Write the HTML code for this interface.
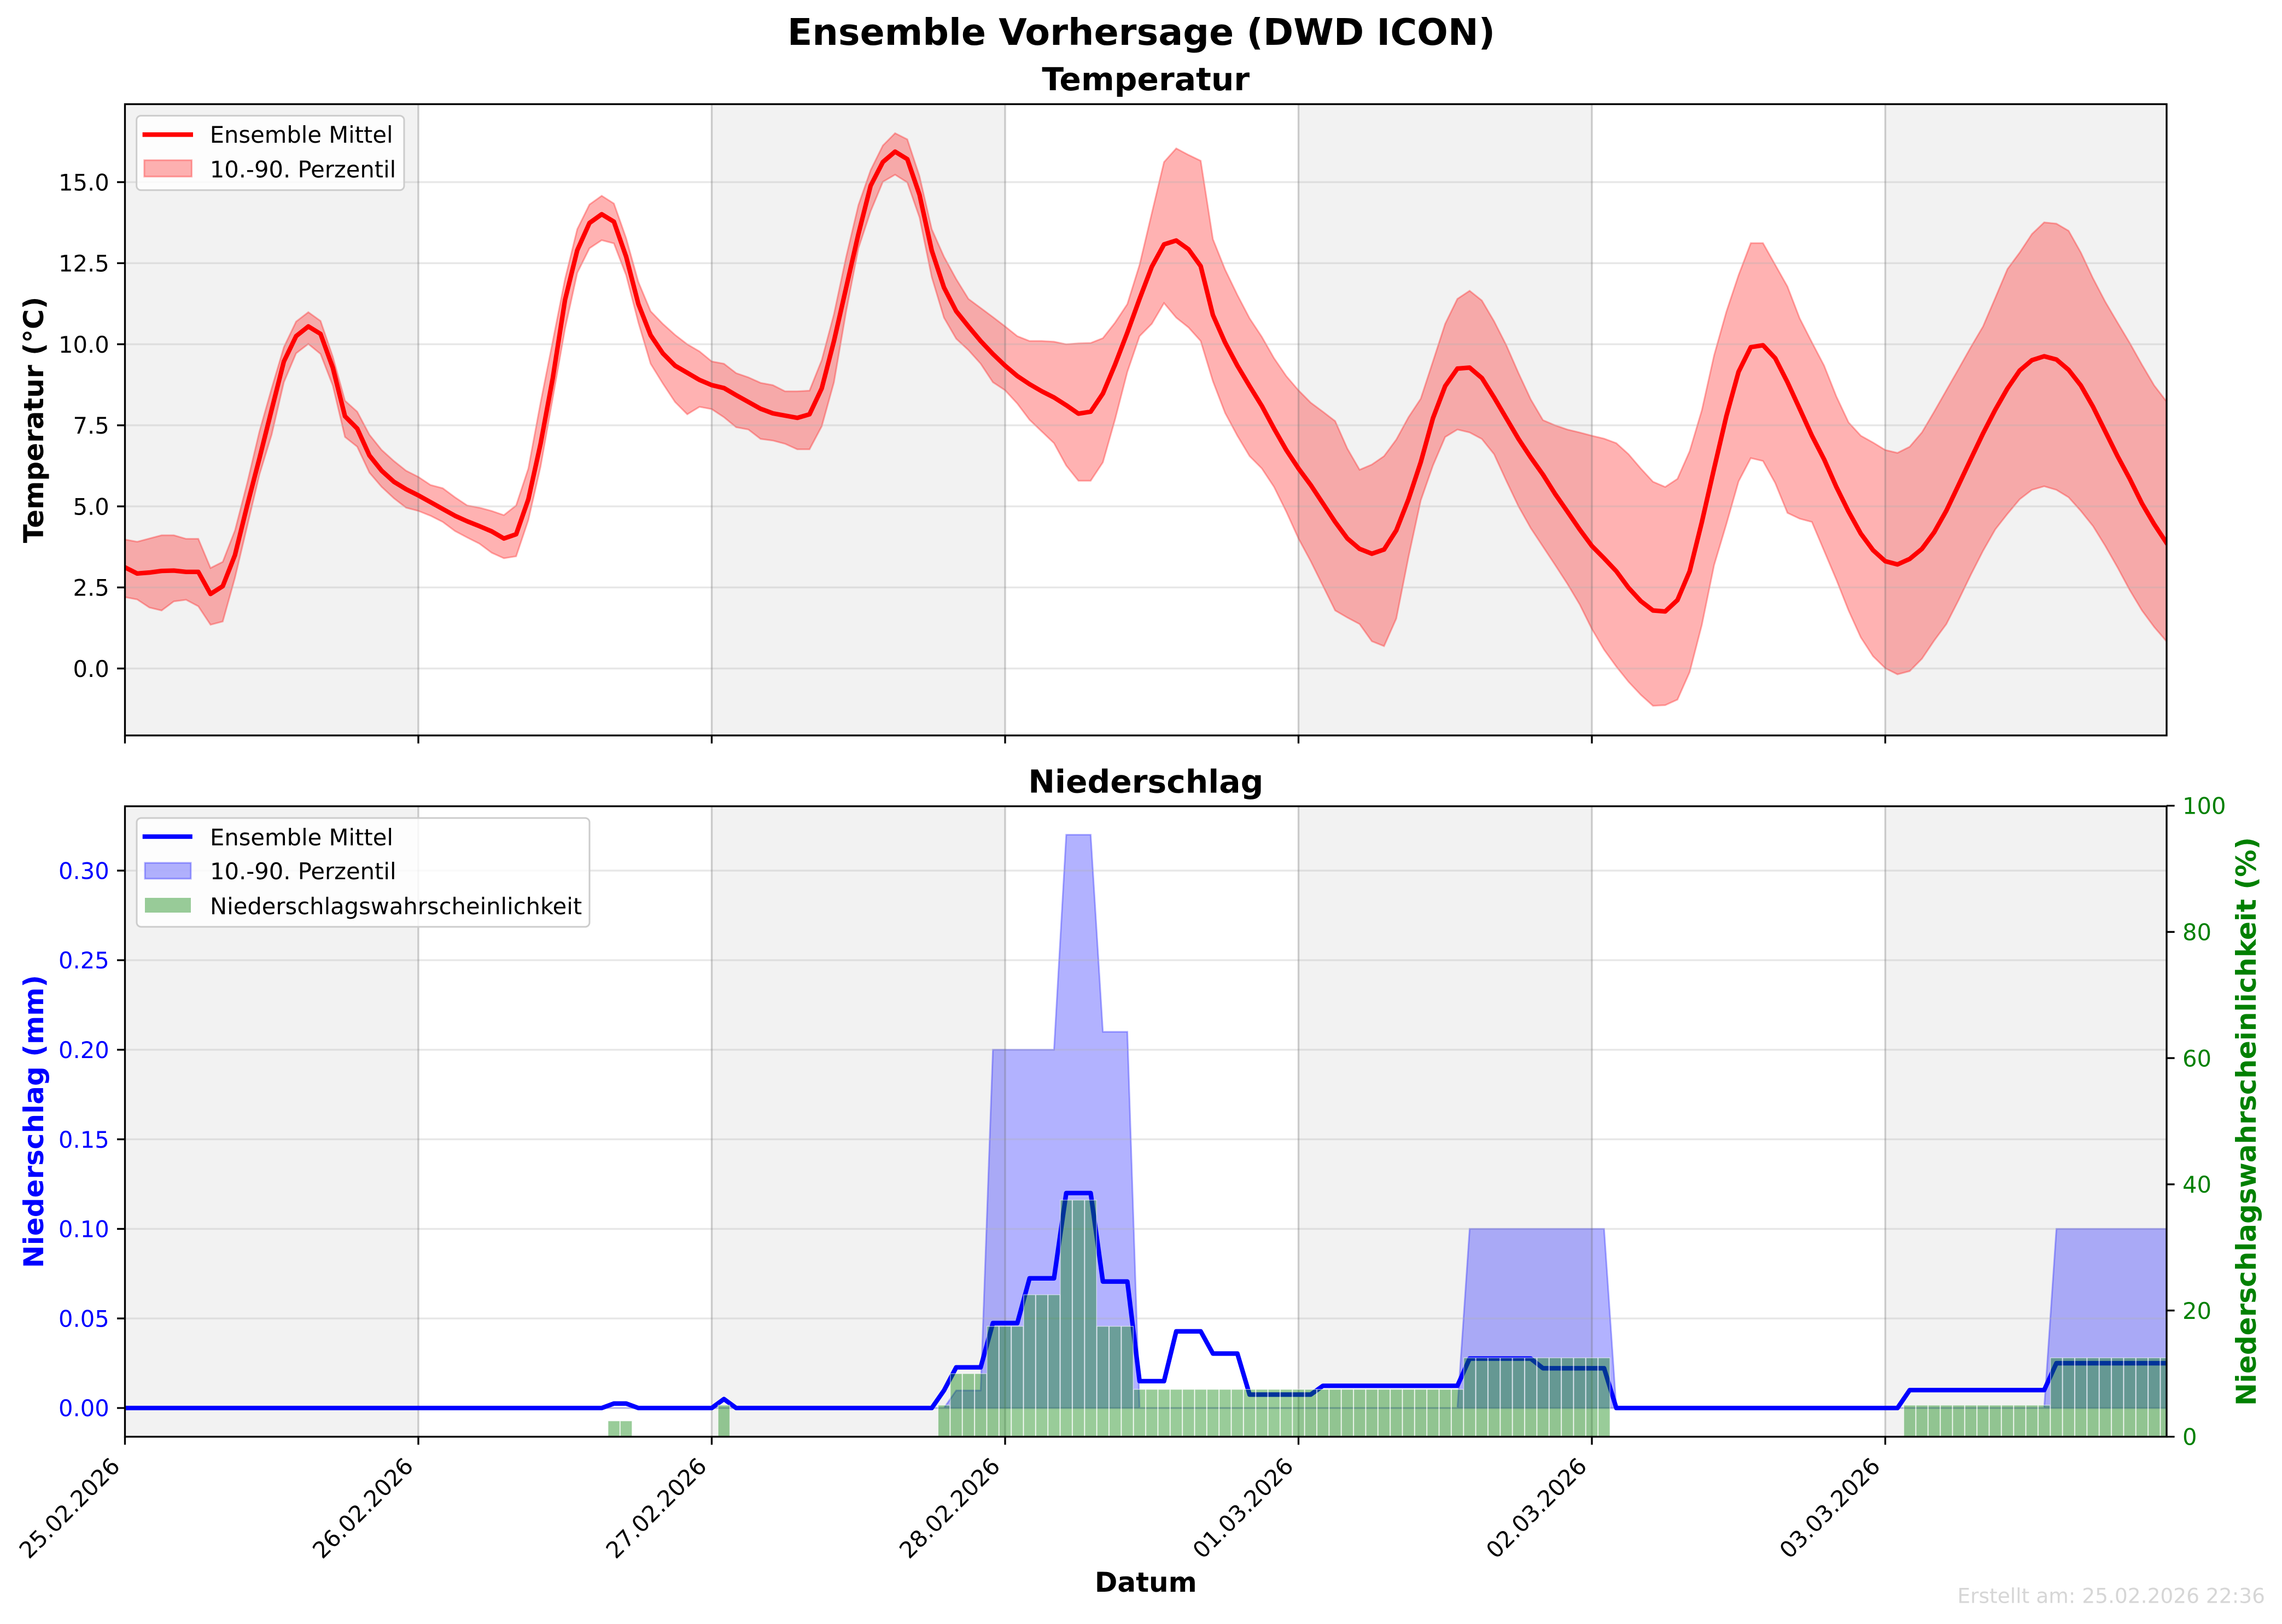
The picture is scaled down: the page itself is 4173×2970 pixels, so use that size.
<!DOCTYPE html>
<html>
<head>
<meta charset="utf-8">
<style>
html,body{margin:0;padding:0;background:#fff;}
svg{display:block;}
.ns{vector-effect:non-scaling-stroke;}
.b{fill:rgba(0,128,0,0.4);stroke:rgba(255,255,255,0.6);stroke-width:1.3px;vector-effect:non-scaling-stroke;}
.tk{font-size:41.67px;}
</style>
</head>
<body>
<svg xmlns="http://www.w3.org/2000/svg" width="4173" height="2970" viewBox="0 0 4173 2970" font-family="'DejaVu Sans','Liberation Sans',sans-serif">
<rect width="4173" height="2970" fill="#ffffff"/>
<defs>
<clipPath id="c1"><rect x="228.5" y="190.5" width="3733.5" height="1154.5"/></clipPath>
<clipPath id="c2"><rect x="228.5" y="1474.5" width="3733.5" height="1153"/></clipPath>
</defs>

<!-- Titles -->
<text x="2087" y="82" text-anchor="middle" font-size="66.7" font-weight="bold">Ensemble Vorhersage (DWD ICON)</text>
<text x="2095.3" y="165" text-anchor="middle" font-size="58.3" font-weight="bold">Temperatur</text>
<text x="2095.3" y="1449.5" text-anchor="middle" font-size="58.3" font-weight="bold">Niederschlag</text>

<!-- ================= TOP AXES ================= -->
<g clip-path="url(#c1)">
  <g fill="#f2f2f2">
    <rect x="228.5" y="190.5" width="536.5" height="1154.5"/>
    <rect x="1301.5" y="190.5" width="536.5" height="1154.5"/>
    <rect x="2374.5" y="190.5" width="536.5" height="1154.5"/>
    <rect x="3447.5" y="190.5" width="514.5" height="1154.5"/>
  </g>
  <g transform="translate(228.5 1222.6) scale(22.354 -59.3)">
    <polygon class="ns" fill="#ff0000" fill-opacity="0.3" stroke="#ff0000" stroke-opacity="0.3" stroke-width="3" points="0,3.98 1,3.91 2,4.01 3,4.11 4,4.11 5,4.00 6,4.00 7,3.10 8,3.29 9,4.26 10,5.72 11,7.31 12,8.64 13,9.91 14,10.70 15,10.99 16,10.72 17,9.62 18,8.26 19,7.92 20,7.21 21,6.74 22,6.40 23,6.10 24,5.91 25,5.66 26,5.56 27,5.28 28,5.03 29,4.96 30,4.86 31,4.73 32,5.03 33,6.17 34,8.20 35,10.10 36,12.01 37,13.55 38,14.31 39,14.58 40,14.34 41,13.27 42,11.92 43,11.02 44,10.63 45,10.29 46,10.00 47,9.78 48,9.47 49,9.40 50,9.11 51,8.98 52,8.81 53,8.74 54,8.55 55,8.55 56,8.57 57,9.51 58,10.93 59,12.70 60,14.29 61,15.37 62,16.13 63,16.51 64,16.32 65,15.18 66,13.55 67,12.70 68,12.01 69,11.40 70,11.12 71,10.84 72,10.55 73,10.25 74,10.10 75,10.10 76,10.08 77,10.00 78,10.03 79,10.04 80,10.19 81,10.67 82,11.24 83,12.45 84,14.04 85,15.62 86,16.04 87,15.84 88,15.66 89,13.24 90,12.30 91,11.52 92,10.80 93,10.23 94,9.57 95,9.02 96,8.58 97,8.20 98,7.92 99,7.63 100,6.78 101,6.13 102,6.29 103,6.55 104,7.06 105,7.75 106,8.32 107,9.47 108,10.63 109,11.40 110,11.65 111,11.35 112,10.71 113,9.97 114,9.11 115,8.30 116,7.66 117,7.50 118,7.37 119,7.28 120,7.18 121,7.09 122,6.95 123,6.61 124,6.17 125,5.76 126,5.60 127,5.85 128,6.70 129,7.97 130,9.66 131,11.00 132,12.13 133,13.12 134,13.12 135,12.45 136,11.78 137,10.80 138,10.06 139,9.34 140,8.39 141,7.59 142,7.18 143,6.97 144,6.74 145,6.65 146,6.84 147,7.28 148,7.92 149,8.58 150,9.24 151,9.91 152,10.55 153,11.43 154,12.32 155,12.83 156,13.40 157,13.76 158,13.72 159,13.50 160,12.83 161,12.03 162,11.31 163,10.67 164,10.04 165,9.37 166,8.73 167,8.24 167,0.84 166,1.28 165,1.79 164,2.42 163,3.12 162,3.78 161,4.39 160,4.86 159,5.28 158,5.51 157,5.62 156,5.51 155,5.22 154,4.77 153,4.29 152,3.63 151,2.89 150,2.11 149,1.37 148,0.86 147,0.30 146,-0.08 145,-0.18 144,0.01 143,0.38 142,0.96 141,1.79 140,2.74 139,3.63 138,4.52 137,4.62 136,4.80 135,5.72 134,6.40 133,6.49 132,5.77 131,4.45 130,3.19 129,1.35 128,-0.11 127,-0.96 126,-1.13 125,-1.15 124,-0.81 123,-0.41 122,0.06 121,0.58 120,1.22 119,1.98 118,2.61 117,3.19 116,3.76 115,4.33 114,5.00 113,5.79 112,6.61 111,7.08 110,7.28 109,7.37 108,7.14 107,6.26 106,5.18 105,3.44 104,1.54 103,0.69 102,0.84 101,1.37 100,1.57 99,1.79 98,2.55 97,3.31 96,4.01 95,4.84 94,5.60 93,6.17 92,6.55 91,7.18 90,7.88 89,8.86 88,10.10 87,10.52 86,10.82 85,11.27 84,10.63 83,10.25 82,9.15 81,7.69 80,6.36 79,5.79 78,5.79 77,6.26 76,6.95 75,7.31 74,7.67 73,8.17 72,8.58 71,8.83 70,9.40 69,9.82 68,10.17 67,10.82 66,12.07 65,13.91 64,14.99 63,15.23 62,15.01 61,14.10 60,12.96 59,11.02 58,8.83 57,7.47 56,6.76 55,6.76 54,6.93 53,7.03 52,7.08 51,7.37 50,7.44 49,7.75 48,8.00 47,8.07 46,7.84 45,8.22 44,8.79 43,9.40 42,10.67 41,12.13 40,13.11 39,13.21 38,12.96 37,12.20 36,10.48 35,8.35 34,6.23 33,4.58 32,3.46 31,3.40 30,3.57 29,3.85 28,4.04 27,4.24 26,4.52 25,4.71 24,4.86 23,4.96 22,5.25 21,5.60 20,6.04 19,6.84 18,7.14 17,8.73 16,9.70 15,10.01 14,9.72 13,8.83 12,7.21 11,5.98 10,4.39 9,2.80 8,1.45 7,1.35 6,1.92 5,2.12 4,2.07 3,1.79 2,1.88 1,2.13 0,2.20"/>
  </g>
  <!-- grid -->
  <path d="M228.5,1222.6H3962M228.5,1074.35H3962M228.5,926.1H3962M228.5,777.85H3962M228.5,629.6H3962M228.5,481.35H3962M228.5,333.1H3962" stroke="rgba(176,176,176,0.3)" stroke-width="3.33" fill="none"/>
  <path d="M765,190.5V1345M1301.5,190.5V1345M1838,190.5V1345M2374.5,190.5V1345M2911,190.5V1345M3447.5,190.5V1345" stroke="rgba(110,110,110,0.33)" stroke-width="3.33" fill="none"/>
  <g transform="translate(228.5 1222.6) scale(22.354 -59.3)">
    <polyline class="ns" fill="none" stroke="#ff0000" stroke-width="8.33" stroke-linejoin="round" stroke-linecap="square" points="0,3.12 1,2.93 2,2.96 3,3.01 4,3.02 5,2.98 6,2.98 7,2.30 8,2.54 9,3.50 10,5.03 11,6.48 12,7.98 13,9.47 14,10.25 15,10.55 16,10.32 17,9.28 18,7.78 19,7.40 20,6.57 21,6.10 22,5.76 23,5.53 24,5.34 25,5.13 26,4.92 27,4.71 28,4.54 29,4.39 30,4.23 31,4.01 32,4.14 33,5.22 34,6.93 35,8.96 36,11.37 37,12.90 38,13.74 39,14.01 40,13.78 41,12.70 42,11.24 43,10.28 44,9.72 45,9.34 46,9.12 47,8.90 48,8.74 49,8.65 50,8.43 51,8.22 52,8.01 53,7.87 54,7.80 55,7.73 56,7.84 57,8.64 58,10.10 59,11.75 60,13.40 61,14.89 62,15.62 63,15.94 64,15.71 65,14.61 66,12.89 67,11.75 68,11.02 69,10.55 70,10.10 71,9.70 72,9.34 73,9.02 74,8.77 75,8.55 76,8.36 77,8.12 78,7.86 79,7.92 80,8.48 81,9.38 82,10.36 83,11.40 84,12.39 85,13.08 86,13.20 87,12.93 88,12.41 89,10.90 90,10.05 91,9.34 92,8.71 93,8.10 94,7.40 95,6.74 96,6.17 97,5.66 98,5.09 99,4.52 100,4.01 101,3.69 102,3.54 103,3.67 104,4.26 105,5.22 106,6.36 107,7.72 108,8.71 109,9.25 110,9.28 111,8.96 112,8.36 113,7.72 114,7.08 115,6.51 116,5.98 117,5.38 118,4.84 119,4.29 120,3.78 121,3.40 122,3.00 123,2.49 124,2.08 125,1.79 126,1.76 127,2.11 128,3.00 129,4.52 130,6.17 131,7.78 132,9.15 133,9.91 134,9.97 135,9.57 136,8.83 137,8.01 138,7.18 139,6.45 140,5.60 141,4.84 142,4.16 143,3.65 144,3.31 145,3.21 146,3.38 147,3.69 148,4.20 149,4.87 150,5.66 151,6.46 152,7.25 153,7.98 154,8.64 155,9.19 156,9.51 157,9.63 158,9.53 159,9.21 160,8.73 161,8.07 162,7.31 163,6.55 164,5.85 165,5.09 166,4.45 167,3.88"/>
  </g>
</g>
<!-- top spines & ticks -->
<rect x="228.5" y="190.5" width="3733.5" height="1154.5" fill="none" stroke="#000" stroke-width="3.33"/>
<path d="M214,1222.6H228.5M214,1074.35H228.5M214,926.1H228.5M214,777.85H228.5M214,629.6H228.5M214,481.35H228.5M214,333.1H228.5M228.5,1345V1359.6M765,1345V1359.6M1301.5,1345V1359.6M1838,1345V1359.6M2374.5,1345V1359.6M2911,1345V1359.6M3447.5,1345V1359.6" stroke="#000" stroke-width="3.33" fill="none"/>
<g class="tk" text-anchor="end" fill="#000">
  <text x="199.8" y="1237.8">0.0</text>
  <text x="199.8" y="1089.55">2.5</text>
  <text x="199.8" y="941.3">5.0</text>
  <text x="199.8" y="793.05">7.5</text>
  <text x="199.8" y="644.8">10.0</text>
  <text x="199.8" y="496.55">12.5</text>
  <text x="199.8" y="348.3">15.0</text>
</g>
<text x="79" y="767.8" text-anchor="middle" font-size="50" font-weight="bold" transform="rotate(-90 79 767.8)">Temperatur (°C)</text>

<!-- top legend -->
<rect x="249.7" y="211.6" width="489.3" height="136.2" rx="8" ry="8" fill="#ffffff" fill-opacity="0.8" stroke="#cccccc" stroke-width="3"/>
<line x1="260.6" y1="246.2" x2="353" y2="246.2" stroke="#ff0000" stroke-width="8.33"/>
<rect x="263.8" y="292.9" width="86.7" height="30.1" fill="#ff0000" fill-opacity="0.3" stroke="#ff0000" stroke-opacity="0.3" stroke-width="3"/>
<text x="383.7" y="261" class="tk">Ensemble Mittel</text>
<text x="383.7" y="324.5" class="tk">10.-90. Perzentil</text>

<!-- ================= BOTTOM AXES ================= -->
<g clip-path="url(#c2)">
  <g fill="#f2f2f2">
    <rect x="228.5" y="1474.5" width="536.5" height="1153"/>
    <rect x="1301.5" y="1474.5" width="536.5" height="1153"/>
    <rect x="2374.5" y="1474.5" width="536.5" height="1153"/>
    <rect x="3447.5" y="1474.5" width="514.5" height="1153"/>
  </g>
  <g transform="translate(228.5 2575) scale(22.354 -3276)">
    <polygon class="ns" fill="#0000ff" fill-opacity="0.3" stroke="#0000ff" stroke-opacity="0.3" stroke-width="3" points="0,0 67,0 68,0.0098 70,0.0098 71,0.2 76,0.2 77,0.32 79,0.32 80,0.21 82,0.21 83,0 109,0 110,0.1 121,0.1 122,0 157,0 158,0.1 167,0.1 167,0"/>
  </g>
  <path d="M228.5,2575H3962M228.5,2411.2H3962M228.5,2247.4H3962M228.5,2083.6H3962M228.5,1919.8H3962M228.5,1756H3962M228.5,1592.2H3962" stroke="rgba(176,176,176,0.3)" stroke-width="3.33" fill="none"/>
  <path d="M765,1474.5V2627.5M1301.5,1474.5V2627.5M1838,1474.5V2627.5M2374.5,1474.5V2627.5M2911,1474.5V2627.5M3447.5,1474.5V2627.5" stroke="rgba(110,110,110,0.33)" stroke-width="3.33" fill="none"/>
  <g transform="translate(228.5 2575) scale(22.354 -3276)">
    <polyline class="ns" fill="none" stroke="#0000ff" stroke-width="8.33" stroke-linejoin="round" stroke-linecap="square" points="0,0 39,0 40,0.0025 41,0.0025 42,0 48,0 49,0.005 50,0 66,0 67,0.0098 68,0.0227 70,0.0227 71,0.0474 73,0.0474 74,0.0724 76,0.0724 77,0.12 79,0.12 80,0.0706 82,0.0706 83,0.015 85,0.015 86,0.0428 88,0.0428 89,0.0304 91,0.0304 92,0.0075 97,0.0075 98,0.0124 109,0.0124 110,0.0276 115,0.0276 116,0.0222 121,0.0222 122,0 145,0 146,0.01 157,0.01 158,0.025 167,0.025"/>
  </g>
  <!-- probability bars (right axis) -->
  <g transform="translate(228.5 2627.5) scale(22.354 -11.54)">
    <rect class="b" x="39.52" y="0" width="0.96" height="2.5"/>
    <rect class="b" x="40.52" y="0" width="0.96" height="2.5"/>
    <rect class="b" x="48.52" y="0" width="0.96" height="5"/>
    <rect class="b" x="66.52" y="0" width="0.96" height="5"/>
    <rect class="b" x="67.52" y="0" width="0.96" height="10"/>
    <rect class="b" x="68.52" y="0" width="0.96" height="10"/>
    <rect class="b" x="69.52" y="0" width="0.96" height="10"/>
    <rect class="b" x="70.52" y="0" width="0.96" height="17.5"/>
    <rect class="b" x="71.52" y="0" width="0.96" height="17.5"/>
    <rect class="b" x="72.52" y="0" width="0.96" height="17.5"/>
    <rect class="b" x="73.52" y="0" width="0.96" height="22.5"/>
    <rect class="b" x="74.52" y="0" width="0.96" height="22.5"/>
    <rect class="b" x="75.52" y="0" width="0.96" height="22.5"/>
    <rect class="b" x="76.52" y="0" width="0.96" height="37.5"/>
    <rect class="b" x="77.52" y="0" width="0.96" height="37.5"/>
    <rect class="b" x="78.52" y="0" width="0.96" height="37.5"/>
    <rect class="b" x="79.52" y="0" width="0.96" height="17.5"/>
    <rect class="b" x="80.52" y="0" width="0.96" height="17.5"/>
    <rect class="b" x="81.52" y="0" width="0.96" height="17.5"/>
    <rect class="b" x="82.52" y="0" width="0.96" height="7.5"/>
    <rect class="b" x="83.52" y="0" width="0.96" height="7.5"/>
    <rect class="b" x="84.52" y="0" width="0.96" height="7.5"/>
    <rect class="b" x="85.52" y="0" width="0.96" height="7.5"/>
    <rect class="b" x="86.52" y="0" width="0.96" height="7.5"/>
    <rect class="b" x="87.52" y="0" width="0.96" height="7.5"/>
    <rect class="b" x="88.52" y="0" width="0.96" height="7.5"/>
    <rect class="b" x="89.52" y="0" width="0.96" height="7.5"/>
    <rect class="b" x="90.52" y="0" width="0.96" height="7.5"/>
    <rect class="b" x="91.52" y="0" width="0.96" height="7.5"/>
    <rect class="b" x="92.52" y="0" width="0.96" height="7.5"/>
    <rect class="b" x="93.52" y="0" width="0.96" height="7.5"/>
    <rect class="b" x="94.52" y="0" width="0.96" height="7.5"/>
    <rect class="b" x="95.52" y="0" width="0.96" height="7.5"/>
    <rect class="b" x="96.52" y="0" width="0.96" height="7.5"/>
    <rect class="b" x="97.52" y="0" width="0.96" height="7.5"/>
    <rect class="b" x="98.52" y="0" width="0.96" height="7.5"/>
    <rect class="b" x="99.52" y="0" width="0.96" height="7.5"/>
    <rect class="b" x="100.52" y="0" width="0.96" height="7.5"/>
    <rect class="b" x="101.52" y="0" width="0.96" height="7.5"/>
    <rect class="b" x="102.52" y="0" width="0.96" height="7.5"/>
    <rect class="b" x="103.52" y="0" width="0.96" height="7.5"/>
    <rect class="b" x="104.52" y="0" width="0.96" height="7.5"/>
    <rect class="b" x="105.52" y="0" width="0.96" height="7.5"/>
    <rect class="b" x="106.52" y="0" width="0.96" height="7.5"/>
    <rect class="b" x="107.52" y="0" width="0.96" height="7.5"/>
    <rect class="b" x="108.52" y="0" width="0.96" height="7.5"/>
    <rect class="b" x="109.52" y="0" width="0.96" height="12.5"/>
    <rect class="b" x="110.52" y="0" width="0.96" height="12.5"/>
    <rect class="b" x="111.52" y="0" width="0.96" height="12.5"/>
    <rect class="b" x="112.52" y="0" width="0.96" height="12.5"/>
    <rect class="b" x="113.52" y="0" width="0.96" height="12.5"/>
    <rect class="b" x="114.52" y="0" width="0.96" height="12.5"/>
    <rect class="b" x="115.52" y="0" width="0.96" height="12.5"/>
    <rect class="b" x="116.52" y="0" width="0.96" height="12.5"/>
    <rect class="b" x="117.52" y="0" width="0.96" height="12.5"/>
    <rect class="b" x="118.52" y="0" width="0.96" height="12.5"/>
    <rect class="b" x="119.52" y="0" width="0.96" height="12.5"/>
    <rect class="b" x="120.52" y="0" width="0.96" height="12.5"/>
    <rect class="b" x="145.52" y="0" width="0.96" height="5"/>
    <rect class="b" x="146.52" y="0" width="0.96" height="5"/>
    <rect class="b" x="147.52" y="0" width="0.96" height="5"/>
    <rect class="b" x="148.52" y="0" width="0.96" height="5"/>
    <rect class="b" x="149.52" y="0" width="0.96" height="5"/>
    <rect class="b" x="150.52" y="0" width="0.96" height="5"/>
    <rect class="b" x="151.52" y="0" width="0.96" height="5"/>
    <rect class="b" x="152.52" y="0" width="0.96" height="5"/>
    <rect class="b" x="153.52" y="0" width="0.96" height="5"/>
    <rect class="b" x="154.52" y="0" width="0.96" height="5"/>
    <rect class="b" x="155.52" y="0" width="0.96" height="5"/>
    <rect class="b" x="156.52" y="0" width="0.96" height="5"/>
    <rect class="b" x="157.52" y="0" width="0.96" height="12.5"/>
    <rect class="b" x="158.52" y="0" width="0.96" height="12.5"/>
    <rect class="b" x="159.52" y="0" width="0.96" height="12.5"/>
    <rect class="b" x="160.52" y="0" width="0.96" height="12.5"/>
    <rect class="b" x="161.52" y="0" width="0.96" height="12.5"/>
    <rect class="b" x="162.52" y="0" width="0.96" height="12.5"/>
    <rect class="b" x="163.52" y="0" width="0.96" height="12.5"/>
    <rect class="b" x="164.52" y="0" width="0.96" height="12.5"/>
    <rect class="b" x="165.52" y="0" width="0.96" height="12.5"/>
    <rect class="b" x="166.52" y="0" width="0.96" height="12.5"/>
  </g>
</g>
<!-- bottom legend -->
<rect x="250" y="1496" width="828" height="199" rx="8" ry="8" fill="#ffffff" fill-opacity="0.8" stroke="#cccccc" stroke-width="3"/>
<line x1="260.7" y1="1530" x2="351.8" y2="1530" stroke="#0000ff" stroke-width="8.33"/>
<rect x="265" y="1578" width="84" height="29" fill="#0000ff" fill-opacity="0.3" stroke="#0000ff" stroke-opacity="0.3" stroke-width="3"/>
<rect x="265" y="1642" width="84" height="27" fill="#008000" fill-opacity="0.4"/>
<text x="384" y="1546" class="tk">Ensemble Mittel</text>
<text x="384" y="1608" class="tk">10.-90. Perzentil</text>
<text x="384" y="1672" class="tk">Niederschlagswahrscheinlichkeit</text>

<!-- bottom spines & ticks -->
<rect x="228.5" y="1474.5" width="3733.5" height="1153" fill="none" stroke="#000" stroke-width="3.33"/>
<path d="M214,2575H228.5M214,2411.2H228.5M214,2247.4H228.5M214,2083.6H228.5M214,1919.8H228.5M214,1756H228.5M214,1592.2H228.5M228.5,2627.5V2642.1M765,2627.5V2642.1M1301.5,2627.5V2642.1M1838,2627.5V2642.1M2374.5,2627.5V2642.1M2911,2627.5V2642.1M3447.5,2627.5V2642.1M3962,2627.5H3976.6M3962,2396.7H3976.6M3962,2165.9H3976.6M3962,1935.1H3976.6M3962,1704.3H3976.6M3962,1473.5H3976.6" stroke="#000" stroke-width="3.33" fill="none"/>
<g class="tk" text-anchor="end" fill="#0000ff">
  <text x="199.8" y="2590.2">0.00</text>
  <text x="199.8" y="2426.4">0.05</text>
  <text x="199.8" y="2262.6">0.10</text>
  <text x="199.8" y="2098.8">0.15</text>
  <text x="199.8" y="1935">0.20</text>
  <text x="199.8" y="1771.2">0.25</text>
  <text x="199.8" y="1607.4">0.30</text>
</g>
<g class="tk" text-anchor="start" fill="#008000">
  <text x="3991" y="2642.7">0</text>
  <text x="3991" y="2411.9">20</text>
  <text x="3991" y="2181.1">40</text>
  <text x="3991" y="1950.3">60</text>
  <text x="3991" y="1719.5">80</text>
  <text x="3991" y="1488.7">100</text>
</g>
<text x="79" y="2051" text-anchor="middle" font-size="50" font-weight="bold" fill="#0000ff" transform="rotate(-90 79 2051)">Niederschlag (mm)</text>
<text x="4125" y="2051" text-anchor="middle" font-size="50" font-weight="bold" fill="#008000" transform="rotate(-90 4125 2051)">Niederschlagswahrscheinlichkeit (%)</text>

<!-- x tick labels -->
<g class="tk" text-anchor="end" fill="#000">
  <text x="221.6" y="2684" transform="rotate(-45 221.6 2684)">25.02.2026</text>
  <text x="758.1" y="2684" transform="rotate(-45 758.1 2684)">26.02.2026</text>
  <text x="1294.6" y="2684" transform="rotate(-45 1294.6 2684)">27.02.2026</text>
  <text x="1831.1" y="2684" transform="rotate(-45 1831.1 2684)">28.02.2026</text>
  <text x="2367.6" y="2684" transform="rotate(-45 2367.6 2684)">01.03.2026</text>
  <text x="2904.1" y="2684" transform="rotate(-45 2904.1 2684)">02.03.2026</text>
  <text x="3440.6" y="2684" transform="rotate(-45 3440.6 2684)">03.03.2026</text>
</g>
<text x="2095.3" y="2911" text-anchor="middle" font-size="50" font-weight="bold">Datum</text>
<text x="4142" y="2931.7" text-anchor="end" font-size="37.5" fill="#d6d6d6">Erstellt am: 25.02.2026 22:36</text>
</svg>
</body>
</html>
